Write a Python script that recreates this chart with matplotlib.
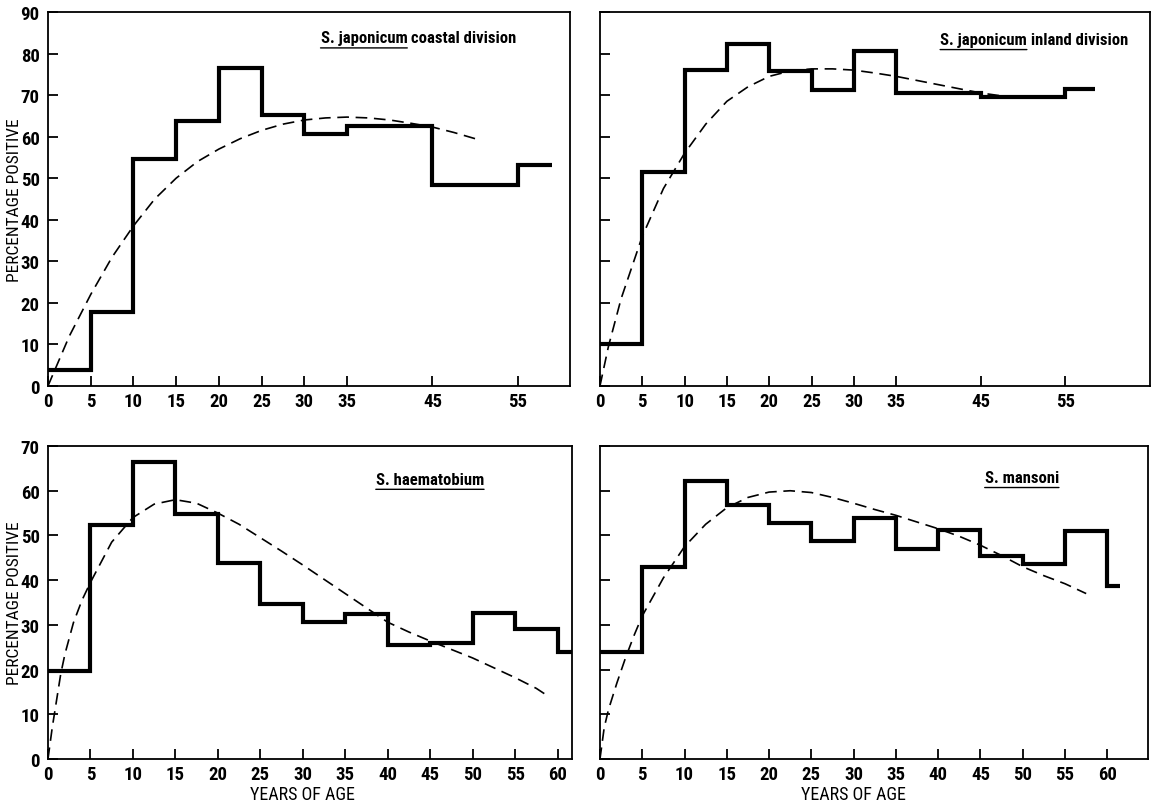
import matplotlib
matplotlib.use("Agg")
import matplotlib.pyplot as plt
from matplotlib import font_manager as fm

# ---------------- data ----------------
tl_edges = [0, 5, 10, 15, 20, 25, 30, 35, 45, 55, 59]
tl_values = [3.8, 17.9, 54.6, 63.8, 76.6, 65.2, 60.6, 62.6, 48.4, 53.1]
tl_curve_x = [0, 2.5, 5, 7.5, 10, 12.5, 15, 17.5, 20, 22.5, 25, 27.5, 30, 32.5, 35, 37.5, 40, 42.5, 45, 47.5, 50]
tl_curve_y = [0, 12, 22, 31, 38.5, 45, 50, 54, 57, 59.5, 61.5, 63, 64, 64.5, 64.7, 64.5, 64, 63.2, 62.3, 61, 59.5]

tr_edges = [0, 5, 10, 15, 20, 25, 30, 35, 45, 55, 58.5]
tr_values = [10, 51.5, 76, 82.2, 75.8, 71.1, 80.6, 70.6, 69.5, 71.4]
tr_curve_x = [0, 1, 2.5, 5, 7.5, 10, 12.5, 15, 17.5, 20, 22.5, 25, 27.5, 30, 32.5, 35, 37.5, 40, 42.5, 45, 48.5]
tr_curve_y = [0, 9.5, 21, 36, 47.5, 56, 63, 68.5, 72, 74.5, 75.8, 76.3, 76.3, 76, 75.3, 74.5, 73.5, 72.5, 71.5, 70.5, 69.5]

bl_edges = [0, 5, 10, 15, 20, 25, 30, 35, 40, 45, 50, 55, 60, 61.7]
bl_values = [19.6, 52.4, 66.4, 54.8, 43.8, 34.6, 30.6, 32.4, 25.5, 26.0, 32.6, 29.0, 23.9]
bl_curve_x = [0, 0.5, 1, 1.5, 2, 3, 4, 5, 7.5, 10, 12.5, 15, 17.5, 20, 22.5, 25, 27.5, 30, 32.5, 35,
              37.5, 40, 42.5, 45, 47.5, 50, 52.5, 55, 57.5, 58.7]
bl_curve_y = [0, 7, 13, 19, 23.5, 30.5, 35.5, 39.5, 48.5, 54, 57, 58, 57.2, 55, 52.5, 49.5, 46.5, 43.4, 40.2, 37,
              33.8, 30.6, 28.4, 26.4, 24.5, 22.6, 20.4, 18.2, 15.8, 14.3]

br_edges = [0, 5, 10, 15, 20, 25, 30, 35, 40, 45, 50, 55, 60, 61.5]
br_values = [23.9, 42.9, 62.1, 56.7, 52.7, 48.7, 54.0, 46.9, 51.3, 45.3, 43.7, 51.1, 38.7]
br_curve_x = [0, 0.5, 1, 2, 3, 4, 5, 7.5, 10, 12.5, 15, 17.5, 20, 22.5, 25, 27.5, 30, 32.5, 35,
              37.5, 40, 42.5, 45, 47.5, 50, 52.5, 55, 57.5]
br_curve_y = [0, 7, 11, 17, 22.5, 27.5, 32, 40.5, 47.5, 52.5, 56.2, 58.5, 59.7, 60, 59.6, 58.5, 57.2, 55.8, 54.5,
              53, 51.5, 49.8, 47.8, 45.5, 43, 41, 39.2, 37]

top_xticks = [0, 5, 10, 15, 20, 25, 30, 35, 45, 55]
bottom_xticks = [0, 5, 10, 15, 20, 25, 30, 35, 40, 45, 50, 55, 60]
top_yticks = [0, 10, 20, 30, 40, 50, 60, 70, 80, 90]
bottom_yticks = [0, 10, 20, 30, 40, 50, 60, 70]

titles = [("S. japonicum", " coastal division"),
          ("S. japonicum", " inland division"),
          ("S. haematobium", ""),
          ("S. mansoni", "")]

# ---------------- fonts ----------------
available = set(f.name for f in fm.fontManager.ttflist)
candidates = ['Roboto Condensed', 'PT Sans Narrow', 'Archivo Narrow', 'Fira Sans Condensed',
              'IBM Plex Sans Condensed', 'Asap Condensed', 'Encode Sans Condensed',
              'Sofia Sans Condensed', 'Barlow Semi Condensed', 'Liberation Sans Narrow']
condensed = next((c for c in candidates if c in available), None)
FAM = ([condensed] if condensed else []) + ['DejaVu Sans']
plt.rcParams['font.family'] = FAM

fig = plt.figure(figsize=(11.56, 8.04), dpi=100)
fig.patch.set_facecolor('white')

ax_tl = fig.add_axes([0.0415, 0.5187, 0.4516, 0.4652])
ax_tr = fig.add_axes([0.5190, 0.5187, 0.4758, 0.4652])
ax_bl = fig.add_axes([0.0415, 0.0547, 0.4533, 0.3893])
ax_br = fig.add_axes([0.5190, 0.0547, 0.4740, 0.3893])

panels = [
    (ax_tl, tl_edges, tl_values, tl_curve_x, tl_curve_y, top_xticks, top_yticks, 61.1, 90, True, False, (31.9, 83.8)),
    (ax_tr, tr_edges, tr_values, tr_curve_x, tr_curve_y, top_xticks, top_yticks, 65.0, 90, False, False, (40.2, 83.4)),
    (ax_bl, bl_edges, bl_values, bl_curve_x, bl_curve_y, bottom_xticks, bottom_yticks, 61.7, 70, True, True, (38.6, 62.6)),
    (ax_br, br_edges, br_values, br_curve_x, br_curve_y, bottom_xticks, bottom_yticks, 64.8, 70, False, True, (45.5, 63.0)),
]

for i, (ax, edges, vals, cx, cy, xt, yt, xmax, ymax, ylab, xlab, tpos) in enumerate(panels):
    ax.stairs(vals, edges, baseline=None, color='black', linewidth=3.0,
              joinstyle='miter', capstyle='butt', zorder=3)
    ax.plot(cx, cy, color='black', linewidth=1.2, linestyle=(0, (7, 4)), zorder=2)
    ax.set_xlim(0, xmax)
    ax.set_ylim(0, ymax)
    ax.set_xticks(xt)
    ax.set_yticks(yt)
    ax.tick_params(direction='in', length=7, width=1.3, labelsize=13.5, colors='black')
    ax.tick_params(axis='x', pad=4)
    ax.tick_params(axis='y', pad=6)
    for lab in ax.get_xticklabels() + ax.get_yticklabels():
        lab.set_fontweight('bold')
        lab.set_family(FAM)
    if not ylab:
        ax.set_yticklabels([])
    else:
        ax.set_ylabel('PERCENTAGE POSITIVE', fontsize=12.5, family=FAM)
        ax.yaxis.set_label_coords(-0.05, 0.5)
    if xlab:
        ax.text(30, -0.112, 'YEARS OF AGE', transform=ax.get_xaxis_transform(),
                ha='center', va='center', fontsize=13, family=FAM)
    for sp in ax.spines.values():
        sp.set_linewidth(1.3)
        sp.set_color('black')

    sp_name, rest = titles[i]
    t1 = ax.text(tpos[0], tpos[1], sp_name, fontsize=12, fontweight='bold',
                 ha='left', va='center', family=FAM)
    if rest:
        ax.annotate(rest, xy=(1, 0), xycoords=t1, xytext=(0, 0), textcoords='offset points',
                    ha='left', va='bottom', fontsize=12, fontweight='bold', family=FAM)
    ax.annotate('', xy=(0, -0.18), xycoords=t1, xytext=(1, -0.18), textcoords=t1,
                arrowprops=dict(arrowstyle='-', lw=1.0, color='black',
                                shrinkA=0, shrinkB=0))

fig.savefig('out.png', dpi=100, facecolor='white')
